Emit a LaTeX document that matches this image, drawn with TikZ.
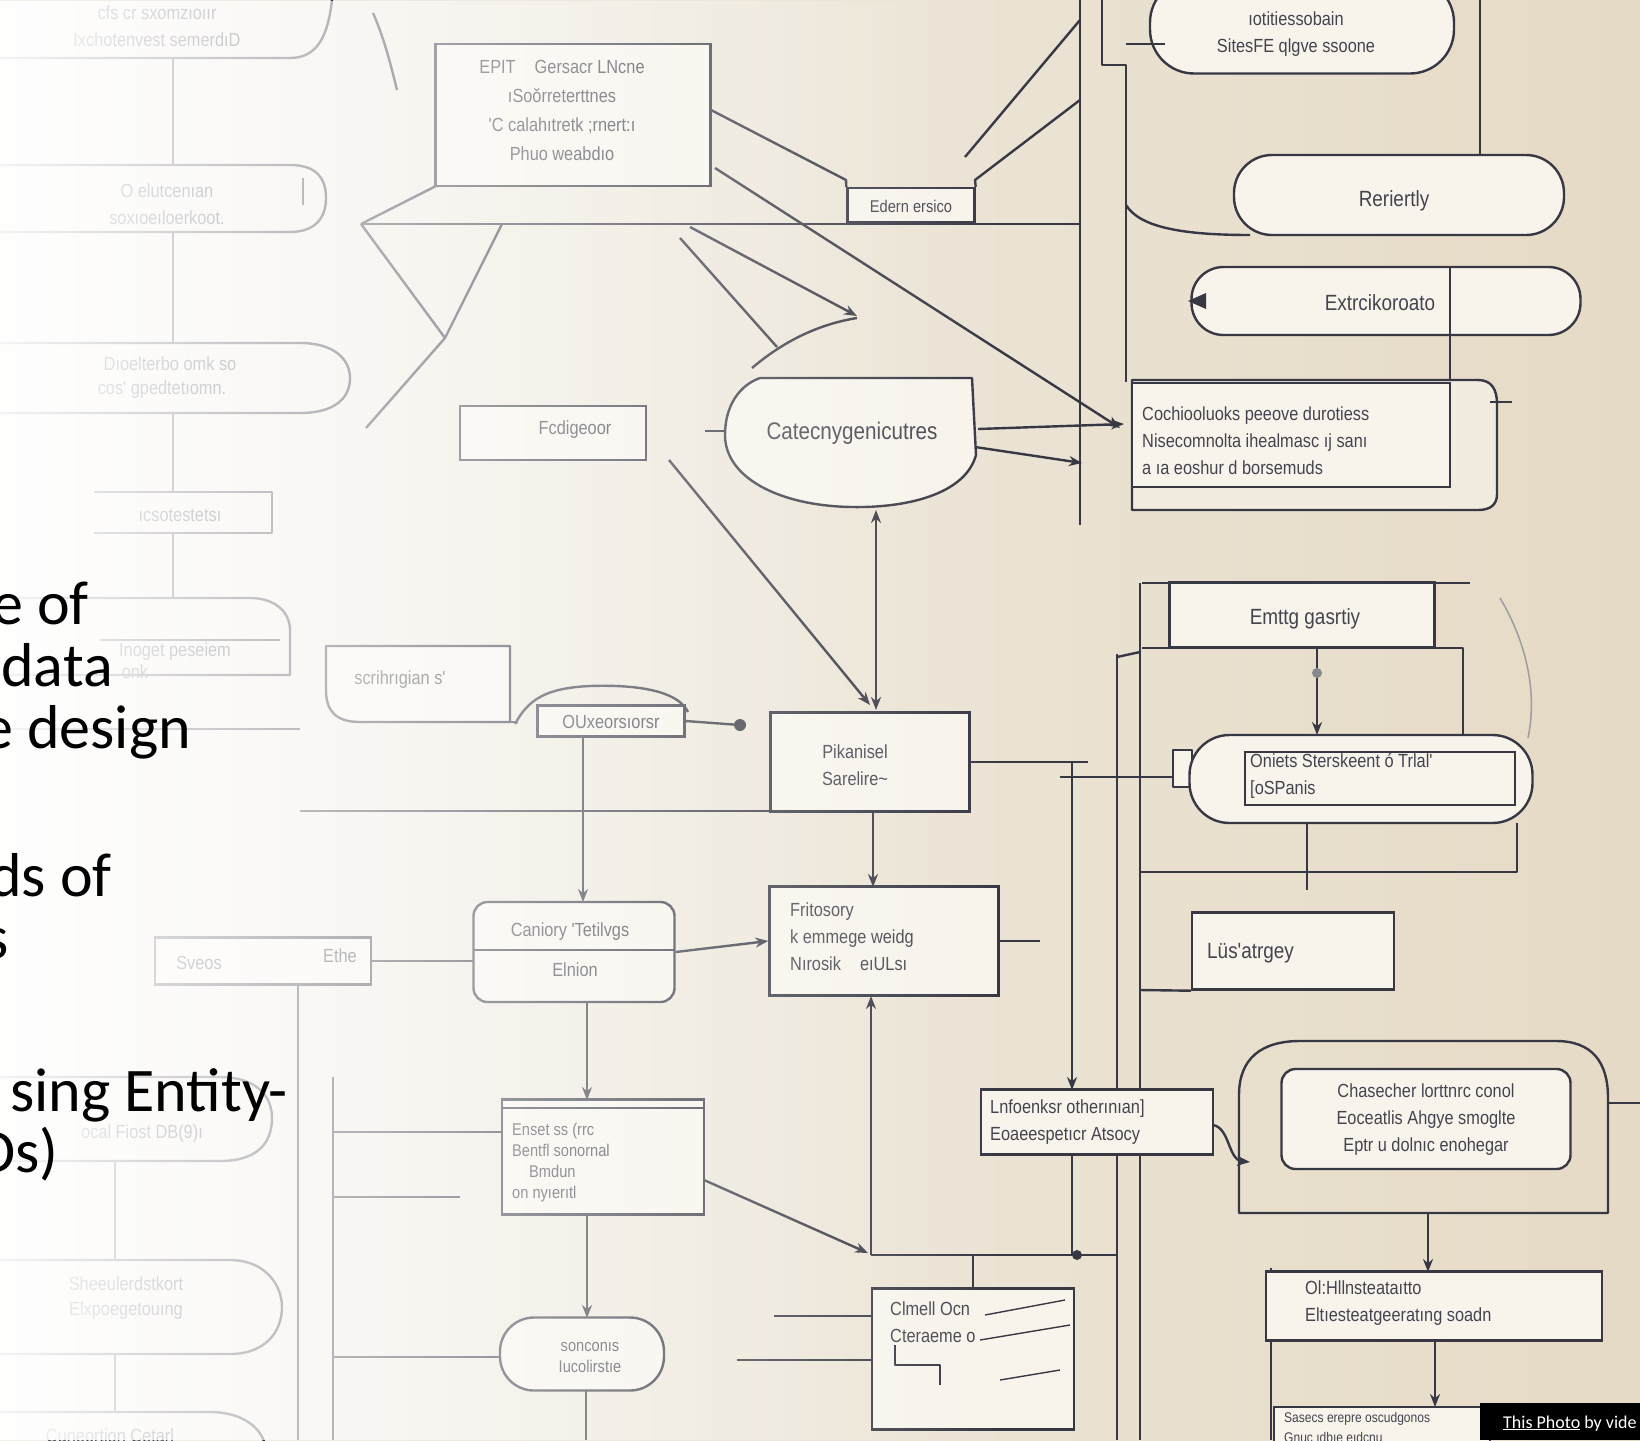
\documentclass[tikz,border=0pt]{standalone}
\usepackage{fontspec}
\setmainfont{Carlito}
\newfontfamily\dfont[FakeStretch=0.86]{Liberation Sans}
\usetikzlibrary{arrows.meta,fadings}
\definecolor{ink}{HTML}{383845}
\definecolor{inkt}{HTML}{44444F}
\definecolor{paper}{HTML}{F8F4EC}
\definecolor{bgL}{HTML}{F3F0E9}
\definecolor{bgR}{HTML}{E5DAC5}
\tikzfading[name=washleft, left color=transparent!5, right color=transparent!100]
\tikzset{
  ln/.style={draw=ink, line width=2.4pt, line join=round},
  tipped/.style={-{Stealth[length=13pt,width=10pt]}},
  bothtips/.style={{Stealth[length=13pt,width=10pt]}-{Stealth[length=13pt,width=10pt]}},
  bx/.style={draw=ink, fill=paper, line width=2.4pt, inner sep=0pt},
  lab/.style={text=inkt, font=\dfont\fontsize{19}{27}\selectfont, inner sep=0pt},
  labs/.style={text=inkt, font=\dfont\fontsize{17}{21}\selectfont, inner sep=0pt},
  labl/.style={text=inkt, font=\dfont\fontsize{22}{28}\selectfont, inner sep=0pt},
  head/.style={text=black, font=\fontsize{62}{64}\selectfont, inner sep=0pt, anchor=base east},
}
\begin{document}
\begin{tikzpicture}[x=1pt,y=-1pt]
\useasboundingbox (0,0) rectangle (1640,1440);
\clip (0,0) rectangle (1640,1440);
\shade[left color=bgL, right color=bgR] (0,0) rectangle (1640,1440);

% ================= faint left column =================
\draw[ln] (-10,58) -- (290,58) .. controls (318,58) and (328,35) .. (332,0);
\node[lab] (f1a) at (157,13) {cfs cr sxomzıoıır};
\node[lab] (f1b) at (157,40) {Ixchotenvest semerdıD};
\draw[ln] (173,58) -- (173,165);
\draw[ln] (-10,165) -- (290,165) .. controls (318,165) and (326,180) .. (326,198) .. controls (326,218) and (315,232) .. (290,232) -- (-10,232);
\draw[ln] (303,178) -- (303,205);
\node[lab] (f2a) at (167,191) {O elutcenıan};
\node[lab] (f2b) at (167,218) {soxıoeıloerkoot.};
\draw[ln] (173,232) -- (173,343);
\draw[ln] (-10,343) -- (300,343) .. controls (335,343) and (350,360) .. (350,378) .. controls (350,398) and (335,413) .. (300,413) -- (-10,413);
\node[lab] (f3a) at (170,364) {Dıoelterbo omk so};
\node[lab] (f3b) at (162,390) {cos' gpedtetıomn.};
\draw[ln] (173,413) -- (173,492);
\draw[ln] (94,492) -- (272,492) -- (272,533) -- (94,533);
\node[lab] (f4) at (180,515) {ıcsotestetsı};
\draw[ln] (173,533) -- (173,598);
\draw[ln] (-10,598) -- (250,598) .. controls (275,598) and (290,612) .. (290,630) -- (290,675) -- (-10,675);
\draw[ln] (100,640) -- (280,640);
\node[lab] (f5a) at (175,652) {Inoget peseiem};
\node[lab] (f5b) at (135,672) {onk};
\draw[ln] (0,729) -- (300,729);
\draw[ln] (-10,1077) -- (220,1077) .. controls (255,1077) and (272,1095) .. (272,1118) .. controls (272,1145) and (255,1161) .. (220,1161) -- (-10,1161);
\node[lab] (f6) at (142,1134) {ocal Fiost DB(9)ı};
\draw[ln] (115,1161) -- (115,1260);
\draw[ln] (-10,1260) -- (230,1260) .. controls (265,1260) and (282,1285) .. (282,1307) .. controls (282,1332) and (265,1354) .. (230,1354) -- (-10,1354);
\node[lab] (f7a) at (126,1284) {Sheeulerdstkort};
\node[lab] (f7b) at (126,1311) {Elxpoegetouıng};
\draw[ln] (115,1354) -- (115,1412);
\draw[ln] (-10,1412) -- (210,1412) .. controls (245,1412) and (262,1430) .. (265,1445);
\node[lab] (f8) at (110,1436) {Cuneortion Cetarl};
\draw[ln] (298,985) -- (298,1440);
\draw[ln] (333,1077) -- (333,1440);
\draw[ln] (333,1197) -- (460,1197);
\draw[ln] (333,1357) -- (500,1357);

% ================= middle-left =================
\draw[ln] (373,13) .. controls (385,40) and (392,70) .. (397,90);
\draw[ln] (361,224) -- (436,186);
\draw[ln] (361,224) -- (445,338) -- (502,224);
\draw[ln] (445,338) -- (366,428);
\draw[ln] (361,224) -- (1080,224);

\node[bx, minimum width=275pt, minimum height=142pt] (epi) at (573,115) {};
\node[lab, align=center, font=\dfont\fontsize{19}{29}\selectfont] (epit) at (562,110) {EPIT\quad Gersacr LNcne\\ıSoŏrreterttnes\\'C calahıtretk ;rnert:ı\\Phuo weabdıo};

\node[bx, minimum width=186pt, minimum height=54pt] (fcd) at (553,433) {};
\node[lab] (fcdt) at (575,430) {Fcdigeoor};

\draw[ln, fill=paper] (326,646) -- (510,646) -- (510,722) -- (360,722) .. controls (335,722) and (326,710) .. (326,690) -- cycle;
\node[lab] (scrt) at (400,680) {scrihrıgian s'};
\draw[ln] (510,722) -- (518,722);
\draw[ln] (515,724) .. controls (528,700) and (545,688) .. (590,686) .. controls (650,684) and (680,695) .. (688,712);
\node[bx, minimum width=147pt, minimum height=31pt] (oux) at (611,721) {};
\node[lab] (ouxt) at (611,722) {OUxeorsıorsr};
\coordinate (dot1) at (740,725);
\draw[ln] (oux.east) -- (dot1);
\fill[ink] (dot1) circle (6pt);
\draw[ln, tipped] (583,737) -- (583,902);
\draw[ln] (300,811) -- (769,811);

\node[bx, minimum width=216pt, minimum height=47pt] (sve) at (263,961) {};
\node[lab] (svet1) at (199,963) {Sveos};
\node[lab] (svet2) at (340,956) {Ethe};
\draw[ln] (sve.east) -- (474,961);

\node[bx, rounded corners=14pt, minimum width=201pt, minimum height=100pt] (can) at (574,952) {};
\draw[ln] (474,950) -- (675,950);
\node[lab] (cant1) at (570,932) {Caniory 'Tetilvgs};
\node[lab] (cant2) at (575,970) {Elnion};
\draw[ln, tipped] (587,1002) -- (587,1100);

\node[bx, minimum width=202pt, minimum height=115pt] (ens) at (603,1157) {};
\draw[ln] (502,1108) -- (704,1108);
\node[labs, align=left, anchor=west] (enst) at (512,1163) {Enset ss (rrc\\Bentfl sonornal\\\quad Bmdun\\ on nyıerıtl};
\draw[ln] (333,1132) -- (502,1132);
\draw[ln, tipped] (587,1215) -- (587,1318);
\node[bx, rounded corners=34pt, minimum width=164pt, minimum height=73pt] (son) at (582,1354) {};
\node[labs, align=center] (sont) at (590,1357) {sonconıs\\Iucolirstıe};
\draw[ln] (586,1391) -- (586,1440);

% ================= long verticals (behind boxes) =================
\draw[ln] (1080,0) -- (1080,525);
\draw[ln] (1102,0) -- (1102,65) -- (1126,65) -- (1126,382);
\draw[ln] (1480,0) -- (1480,162);
\draw[ln] (1117,654) -- (1117,1440);
\draw[ln] (1140,583) -- (1140,1440);
\draw[ln] (1271,1268) -- (1271,1440);

% ================= center =================
\draw[ln, fill=paper] (760,378) -- (972,378) -- (976,455) .. controls (965,495) and (905,508) .. (852,507) .. controls (780,506) and (725,478) .. (725,435) .. controls (725,405) and (740,385) .. (760,378);
\draw[ln] (752,368) .. controls (785,340) and (820,324) .. (857,318);
\node[font=\dfont\fontsize{24}{28}\selectfont, text=inkt, inner sep=0pt] (cat) at (852,433) {Catecnygenicutres};
\draw[ln] (725,431) -- (705,431);

\node[bx, minimum width=127pt, minimum height=34pt] (ede) at (911,205) {};
\node[text=inkt, font=\dfont\fontsize{17}{20}\selectfont, inner sep=0pt] (edet) at (911,206) {Edern ersico};
\draw[ln] (711,110) -- (846,180) -- (ede.north west);
\draw[ln] (ede.north east) -- (975,180) -- (1080,100);
\draw[ln] (965,157) -- (1080,20);
\draw[ln, tipped] (715,168) -- (1120,428);
\draw[ln, tipped] (690,227) -- (857,316);
\draw[ln] (680,238) -- (777,347);

\draw[ln, bothtips] (876,510) -- (876,710);
\draw[ln, tipped] (669,460) -- (870,705);

\node[bx, minimum width=199pt, minimum height=99pt] (pik) at (870,762) {};
\node[lab, align=center] (pikt) at (855,765) {Pikanisel\\Sarelire\textasciitilde};
\draw[ln] (pik.east) -- (1088,762);
\draw[ln, tipped] (1072,762) -- (1072,1090);

\node[bx, minimum width=229pt, minimum height=109pt] (fri) at (884,941) {};
\node[lab, align=left, anchor=west] (frit) at (790,937) {Fritosory\\k emmege weidg\\Nırosik\quad eıULsı};
\draw[ln] (fri.east) -- ++(40,0);
\draw[ln, tipped] (873,812) -- (873,887);
\draw[ln, tipped] (can.east) -- (fri.west);
\draw[ln, tipped] (871,1255) -- (871,996);
\draw[ln, tipped] (704,1180) -- (868,1253);
\draw[ln] (871,1255) -- (1117,1255);
\fill[ink] (1077,1255) circle (5pt);

\node[bx, minimum width=202pt, minimum height=141pt] (clm) at (973,1359) {};
\node[lab, align=left, anchor=west] (clmt) at (890,1322) {Clmell Ocn\\Cteraeme o};
\draw[ln] (973,1255) -- (clm.north);
\draw[ln, line width=1.8pt] (895,1345) -- (895,1365) -- (940,1365) -- (940,1385);
\draw[draw=ink, line width=1.4pt] (985,1315) -- (1065,1300) (980,1340) -- (1070,1325) (1000,1380) -- (1060,1370);
\draw[ln] (774,1316) -- (872,1316);
\draw[ln] (737,1360) -- (872,1360);

\node[bx, minimum width=232pt, minimum height=65pt] (lnf) at (1097,1122) {};
\node[lab, align=left, anchor=west] (lnft) at (990,1122) {Lnfoenksr otherınıan]\\Eoaeespetıcr Atsocy};
\draw[ln] (1072,1155) -- (1072,1255);

% ================= right column =================
\node[bx, rounded corners=44pt, minimum width=304pt, minimum height=95pt] (topr) at (1302,26) {};
\node[lab, align=center] (toprt) at (1296,34) {ıotitiessobain\\SitesFE qlgve ssoone};
\draw[ln] (1126,44) -- (1165,44);

\draw[ln] (1250,235) .. controls (1185,235) and (1140,228) .. (1126,205);
\node[bx, rounded corners=38pt, minimum width=330pt, minimum height=80pt] (rer) at (1399,195) {};
\node[labl] (rert) at (1394,201) {Reriertly};

\node[bx, rounded corners=32pt, minimum width=389pt, minimum height=68pt] (ext) at (1386,301) {};
\node[labl] (extt) at (1380,303) {Extrcikoroato};
\draw[ln] (1450,267) -- (1450,383);
\fill[ink] (1188,301) -- (1206,293) -- (1206,309) -- cycle;

\draw[ln, fill=paper!70!bgR] (1132,380) -- (1478,380) .. controls (1492,380) and (1497,390) .. (1497,404) -- (1497,494) .. controls (1497,505) and (1490,510) .. (1478,510) -- (1132,510) -- cycle;
\node[bx, minimum width=318pt, minimum height=104pt] (coc) at (1291,435) {};
\node[lab, align=left, anchor=west] (coct) at (1142,441) {Cochiooluoks peeove durotiess\\Nisecomnolta ihealmasc ıj sanı\\ a ıa eoshur d borsemuds};
\draw[ln] (1490,402) -- (1512,402);
\draw[ln, tipped] (978,429) -- (1124,424);
\draw[ln, tipped] (975,447) -- (1082,463);

\draw[ln] (1142,583) -- (1470,583);
\node[bx, minimum width=265pt, minimum height=65pt] (emt) at (1302,615) {};
\node[labl] (emtt) at (1305,619) {Emttg gasrtiy};
\draw[ln] (1142,648) -- (1463,648) -- (1463,735);
\draw[ln] (1117,657) -- (1140,652);
\draw[draw=ink!50, line width=1.5pt] (1500,598) .. controls (1525,640) and (1538,690) .. (1528,738);
\draw[ln, fill=paper] (1173,750) rectangle (1192,787);
\node[bx, rounded corners=40pt, minimum width=343pt, minimum height=88pt] (oni) at (1361,779) {};
\draw[draw=ink, line width=1.4pt] (1245,752) rectangle (1515,805);
\node[lab, align=left, anchor=west] (onit) at (1250,776) {Oniets Sterskeent ó Trlal'\\{[}oSPanis};
\draw[ln, tipped] (1317,648) -- (1317,735);
\fill[ink!60] (1317,673) circle (5pt);
\draw[ln] (1060,777) -- (1173,777);
\draw[ln] (1307,823) -- (1307,890);
\draw[ln] (1140,872) -- (1517,872) -- (1517,823);
\node[bx, minimum width=202pt, minimum height=77pt] (las) at (1293,951) {};
\node[labl, anchor=west] (last) at (1207,953) {Lüs'atrgey};
\draw[ln] (1140,990) -- (las.south west);

\draw[ln, tipped] (1213,1125) .. controls (1230,1128) and (1228,1160) .. (1250,1162);
\draw[ln] (1239,1213) -- (1239,1095) .. controls (1239,1058) and (1262,1041) .. (1300,1041) -- (1556,1041) .. controls (1592,1041) and (1608,1062) .. (1608,1098) -- (1608,1213) -- cycle;
\node[bx, rounded corners=14pt, minimum width=289pt, minimum height=100pt] (cha) at (1426,1119) {};
\node[lab, align=center] (chat) at (1426,1120) {Chasecher lorttnrc conol\\Eoceatlis Ahgye smoglte\\Eptr u dolnıc enohegar};
\draw[ln] (1608,1103) -- (1640,1103);
\draw[ln, tipped] (1428,1213) -- (1428,1272);
\node[bx, minimum width=336pt, minimum height=69pt] (olh) at (1434,1306) {};
\node[lab, align=left, anchor=west] (olht) at (1305,1303) {Ol:Hllnsteataıtto\\Eltıesteatgeeratıng soadn};
\draw[ln, tipped] (1435,1341) -- (1435,1407);
\node[bx, minimum width=216pt, minimum height=60pt] (sas) at (1382,1437) {};
\node[text=inkt, font=\dfont\fontsize{14}{20}\selectfont, align=left, anchor=north west, inner sep=0pt] (sast) at (1284,1412) {Sasecs erepre oscudgonos\\Gnuc ıdbıe eıdcnu};

% ================= white wash on the left =================
\fill[white, path fading=washleft] (0,0) rectangle (1000,1440);

% ================= slide text =================
\node[head] (h1) at (89,624) {e of};
\node[head] (h2) at (113,686) {data};
\node[head] (h3) at (191,748) {e design};
\node[head] (h4) at (112,896) {ds of};
\node[head] (h5) at (9,958) {s};
\node[head] (h6) at (288,1111) {sing Entity-};
\node[head] (h7) at (59,1172) {Ds)};

% ================= credit =================
\fill[black] (1480,1403) rectangle (1640,1440);
\node[anchor=base west, text=white, font=\fontsize{18}{20}\selectfont, inner sep=0pt] (credit) at (1503,1428) {\underline{This Photo} by vide};
\end{tikzpicture}
\end{document}
